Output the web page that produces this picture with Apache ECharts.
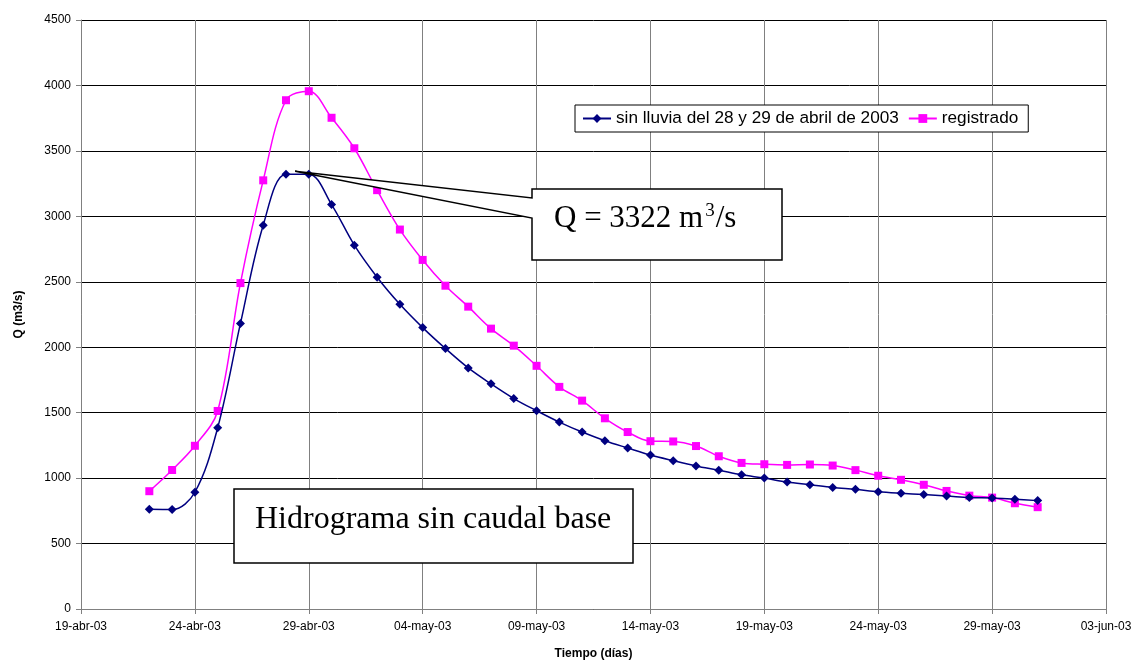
<!DOCTYPE html>
<html>
<head>
<meta charset="utf-8">
<script src="https://cdn.jsdelivr.net/npm/echarts@6/dist/echarts.min.js"></script>
<style>html,body{margin:0;padding:0;background:#fff;}#c{width:1137px;height:667px;}</style>
</head>
<body>
<div id="c"></div>
<script>
// ---- data ----
const startDate = '2003-04-19';
const dates = ['2003-04-22','2003-04-23','2003-04-24','2003-04-25','2003-04-26','2003-04-27','2003-04-28','2003-04-29','2003-04-30',
 '2003-05-01','2003-05-02','2003-05-03','2003-05-04','2003-05-05','2003-05-06','2003-05-07','2003-05-08','2003-05-09','2003-05-10',
 '2003-05-11','2003-05-12','2003-05-13','2003-05-14','2003-05-15','2003-05-16','2003-05-17','2003-05-18','2003-05-19','2003-05-20',
 '2003-05-21','2003-05-22','2003-05-23','2003-05-24','2003-05-25','2003-05-26','2003-05-27','2003-05-28','2003-05-29','2003-05-30','2003-05-31'];
const sinLluvia = [762,760,892,1384,2182,2932,3322,3322,3090,2780,2535,2328,2150,1990,1842,1720,1608,1515,1428,
 1352,1286,1230,1176,1133,1093,1060,1025,1000,970,950,929,914,896,884,874,864,851,848,838,828];
const registrado = [900,1062,1247,1513,2490,3275,3887,3956,3753,3520,3200,2899,2667,2470,2310,2142,2012,1858,1697,
 1592,1457,1352,1282,1280,1245,1167,1116,1106,1101,1104,1096,1061,1018,987,949,902,866,851,808,778];
const xTickLabels = ['19-abr-03','24-abr-03','29-abr-03','04-may-03','09-may-03','14-may-03','19-may-03','24-may-03','29-may-03','03-jun-03'];
const seriesNames = ['sin lluvia del 28 y 29 de abril de 2003','registrado'];
const peakLabel = ['Q = 3322 m', '3', '/s'];
const boxLabel = 'Hidrograma sin caudal base';

// ---- build ----
const DAY = 86400000;
const t0 = Date.parse(startDate + 'T00:00:00Z');
const dayNum = d => Math.round((Date.parse(d + 'T00:00:00Z') - t0) / DAY);
const s1 = dates.map((d, i) => [dayNum(d), sinLluvia[i]]);
const s2 = dates.map((d, i) => [dayNum(d), registrado[i]]);

const chart = echarts.init(document.getElementById('c'), null, {renderer: 'canvas'});
const font = 'Liberation Sans, Arial, sans-serif';
const serif = 'Liberation Serif, Times New Roman, serif';

chart.setOption({
  animation: false,
  backgroundColor: '#fff',
  grid: {left: 81, right: 31, top: 20, bottom: 58, containLabel: false},
  xAxis: {
    type: 'value', min: 0, max: 45, interval: 5,
    name: 'Tiempo (días)', nameLocation: 'middle', nameGap: 39,
    nameTextStyle: {fontFamily: font, fontWeight: 'bold', fontSize: 12, color: '#000'},
    axisLine: {show: true, onZero: false, lineStyle: {color: '#808080', width: 1}},
    axisTick: {show: true, length: 5, inside: false, lineStyle: {color: '#808080'}},
    axisLabel: {fontFamily: font, fontSize: 12, color: '#000', margin: 12,
      formatter: v => xTickLabels[Math.round(v / 5)] || ''},
    splitLine: {show: true, lineStyle: {color: '#808080', width: 1}}
  },
  yAxis: {
    type: 'value', min: 0, max: 4500, interval: 500,
    name: 'Q (m3/s)', nameLocation: 'middle', nameGap: 56,
    nameTextStyle: {fontFamily: font, fontWeight: 'bold', fontSize: 12, color: '#000'},
    axisLine: {show: true, lineStyle: {color: '#808080', width: 1}},
    axisTick: {show: true, length: 5, lineStyle: {color: '#808080'}},
    axisLabel: {fontFamily: font, fontSize: 12, color: '#000', margin: 10, formatter: v => String(v)},
    splitLine: {show: true, lineStyle: {color: '#000', width: 1}}
  },
  legend: {
    left: 575, top: 105, orient: 'horizontal',
    backgroundColor: '#fff', borderColor: '#000', borderWidth: 1,
    padding: [5, 10, 5, 7], itemGap: 9, itemWidth: 28, itemHeight: 11,
    textStyle: {fontFamily: font, fontSize: 17.2, color: '#000'},
    data: [seriesNames[0], seriesNames[1]]
  },
  series: [
    {
      name: seriesNames[0], type: 'line', data: s1, smooth: 0.35,
      symbol: 'diamond', symbolSize: 9,
      lineStyle: {color: '#000080', width: 1.5},
      itemStyle: {color: '#000080'}, z: 3
    },
    {
      name: seriesNames[1], type: 'line', data: s2, smooth: 0.35,
      symbol: 'rect', symbolSize: 8,
      lineStyle: {color: '#ff00ff', width: 1.5},
      itemStyle: {color: '#ff00ff'}, z: 2
    }
  ]
});

// annotations
const tip = chart.convertToPixel({gridIndex: 0}, [9.4, 3345]);
chart.setOption({
  graphic: [
    {
      type: 'polygon', z: 100,
      shape: {points: [[532,189],[782,189],[782,260],[532,260],[532,218],[tip[0],tip[1]],[532,198]]},
      style: {fill: '#fff', stroke: '#000', lineWidth: 1.5}
    },
    {
      type: 'text', z: 101, x: 554, y: 219,
      style: {
        text: '{a|' + peakLabel[0] + '}{b|' + peakLabel[1] + '}{a|' + peakLabel[2] + '}',
        verticalAlign: 'middle', align: 'left',
        rich: {
          a: {fontFamily: serif, fontSize: 31, fill: '#000', color: '#000'},
          b: {fontFamily: serif, fontSize: 19, fill: '#000', color: '#000', verticalAlign: 'top', padding: [0, 1, 16, 2]}
        }
      }
    },
    {
      type: 'rect', z: 100,
      shape: {x: 234, y: 489, width: 399, height: 74},
      style: {fill: '#fff', stroke: '#000', lineWidth: 1.5}
    },
    {
      type: 'text', z: 101, x: 255, y: 520,
      style: {text: boxLabel, font: '32px ' + serif, fill: '#000', verticalAlign: 'middle'}
    }
  ]
});
</script>
</body>
</html>
